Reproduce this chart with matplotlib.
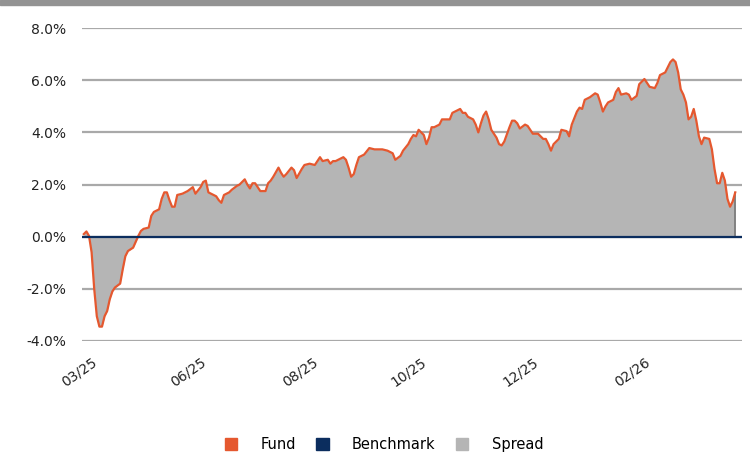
import matplotlib
matplotlib.use("Agg")
import matplotlib.pyplot as plt
from matplotlib.patches import Patch, Rectangle

# trading day index and fund return vs benchmark (%)
day = [0, 1, 2, 3, 4, 5, 6, 7, 8, 9, 10, 11, 12, 14, 15, 16, 17, 19, 20, 21,
       22, 23, 25, 26, 27, 29, 30, 31, 32, 33, 34, 35, 36, 38, 39, 40, 42, 43, 45, 46,
       47, 48, 50, 51, 52, 53, 54, 56, 57, 59, 60, 62, 63, 64, 65, 66, 67, 68, 70, 71,
       72, 73, 75, 76, 77, 78, 80, 81, 82, 84, 85, 87, 89, 90, 91, 92, 94, 95, 96, 97,
       98, 100, 101, 102, 103, 104, 105, 106, 108, 110, 112, 113, 115, 117, 119, 120, 122, 123, 125, 126,
       127, 128, 129, 131, 132, 133, 134, 135, 137, 138, 139, 141, 142, 144, 145, 146, 147, 148, 150, 151,
       152, 153, 154, 155, 156, 157, 159, 160, 161, 162, 164, 165, 166, 167, 168, 170, 171, 173, 174, 175,
       177, 178, 179, 180, 181, 183, 184, 186, 187, 188, 190, 191, 192, 193, 194, 195, 197, 198, 199, 200,
       201, 202, 204, 205, 206, 207, 209, 210, 211, 213, 214, 215, 216, 217, 218, 220, 221, 222, 224, 225,
       226, 227, 228, 229, 230, 231, 232, 233, 234, 235, 236, 237, 238, 239, 241, 242, 243, 244, 245, 246,
       247, 248, 249, 250, 251]
fund = [0.1, 0.2, 0.03, -0.6, -2.0, -3.05, -3.45, -3.45, -3.05, -2.85, -2.4, -2.1, -1.95, -1.8, -1.25, -0.75, -0.55, -0.42, -0.2, 0.03,
        0.22, 0.3, 0.35, 0.8, 0.95, 1.05, 1.45, 1.7, 1.7, 1.4, 1.15, 1.15, 1.6, 1.65, 1.7, 1.75, 1.9, 1.65, 1.9, 2.1,
        2.15, 1.7, 1.6, 1.55, 1.4, 1.3, 1.6, 1.7, 1.8, 1.95, 2.0, 2.2, 2.0, 1.85, 2.05, 2.05, 1.9, 1.75, 1.75, 2.05,
        2.15, 2.3, 2.65, 2.45, 2.3, 2.4, 2.65, 2.55, 2.25, 2.6, 2.75, 2.8, 2.75, 2.9, 3.05, 2.9, 2.95, 2.8, 2.9, 2.9,
        2.95, 3.05, 2.95, 2.65, 2.3, 2.4, 2.75, 3.05, 3.15, 3.4, 3.35, 3.35, 3.35, 3.3, 3.2, 2.95, 3.1, 3.3, 3.55, 3.75,
        3.9, 3.85, 4.1, 3.9, 3.55, 3.8, 4.2, 4.2, 4.3, 4.5, 4.5, 4.5, 4.75, 4.85, 4.9, 4.75, 4.75, 4.6, 4.5, 4.3,
        4.0, 4.35, 4.65, 4.8, 4.5, 4.1, 3.8, 3.55, 3.5, 3.65, 4.2, 4.45, 4.45, 4.35, 4.15, 4.3, 4.25, 3.95, 3.95, 3.95,
        3.75, 3.75, 3.55, 3.3, 3.55, 3.75, 4.1, 4.05, 3.85, 4.3, 4.8, 4.95, 4.9, 5.25, 5.3, 5.35, 5.5, 5.45, 5.15, 4.8,
        5.0, 5.15, 5.25, 5.55, 5.7, 5.45, 5.5, 5.45, 5.25, 5.4, 5.85, 5.95, 6.05, 5.9, 5.75, 5.7, 5.9, 6.2, 6.3, 6.5,
        6.7, 6.8, 6.7, 6.3, 5.65, 5.45, 5.15, 4.5, 4.6, 4.9, 4.45, 3.85, 3.55, 3.8, 3.75, 3.35, 2.6, 2.05, 2.05, 2.45,
        2.15, 1.45, 1.15, 1.35, 1.7]
benchmark = 0.0

tick_days = [3, 45, 88, 130, 173, 216]
tick_labels = ["03/25", "06/25", "08/25", "10/25", "12/25", "02/26"]
y_ticks = [-4, -2, 0, 2, 4, 6, 8]

c_fund = "#e5582f"
c_bench = "#0b2d5e"
c_spread = "#b5b5b5"

fig = plt.figure(figsize=(7.5, 4.54), dpi=100)
fig.patches.append(Rectangle((0, 0.989), 1, 0.011, transform=fig.transFigure,
                             color="#939393", zorder=0))

ax = fig.add_axes([0.109, 0.249, 0.88, 0.689])

for y in y_ticks:
    ax.axhline(y, color="#a9a9a9", lw=1.6, zorder=1)

ax.fill_between(day, fund, benchmark, color=c_spread, lw=0, zorder=2)
ax.vlines(day[-1], benchmark, fund[-1], color="#777777", lw=1.2, zorder=3)
ax.plot(day, fund, color=c_fund, lw=1.6, zorder=4)
ax.axhline(benchmark, color=c_bench, lw=1.6, zorder=5)

ax.set_xlim(-0.8, 253.5)
ax.set_ylim(-4, 8)
ax.set_yticks(y_ticks)
ax.set_yticklabels(["%.1f%%" % v for v in y_ticks], fontsize=10, color="#222222")
ax.set_xticks(tick_days)
ax.set_xticklabels(tick_labels, fontsize=10, rotation=35, ha="right",
                   rotation_mode="anchor", color="#222222")
ax.tick_params(axis="y", length=0, pad=11)
ax.tick_params(axis="x", length=0, pad=10)
for s in ax.spines.values():
    s.set_visible(False)

handles = [Patch(color=c_fund, label="Fund"),
           Patch(color=c_bench, label="Benchmark"),
           Patch(color=c_spread, label="Spread")]
fig.legend(handles=handles, loc="lower center", bbox_to_anchor=(0.512, -0.025),
           ncol=3, frameon=False, fontsize=10.5, handlelength=0.85, handleheight=0.85,
           handletextpad=1.6, columnspacing=1.4)

fig.savefig("out.png", dpi=100)
